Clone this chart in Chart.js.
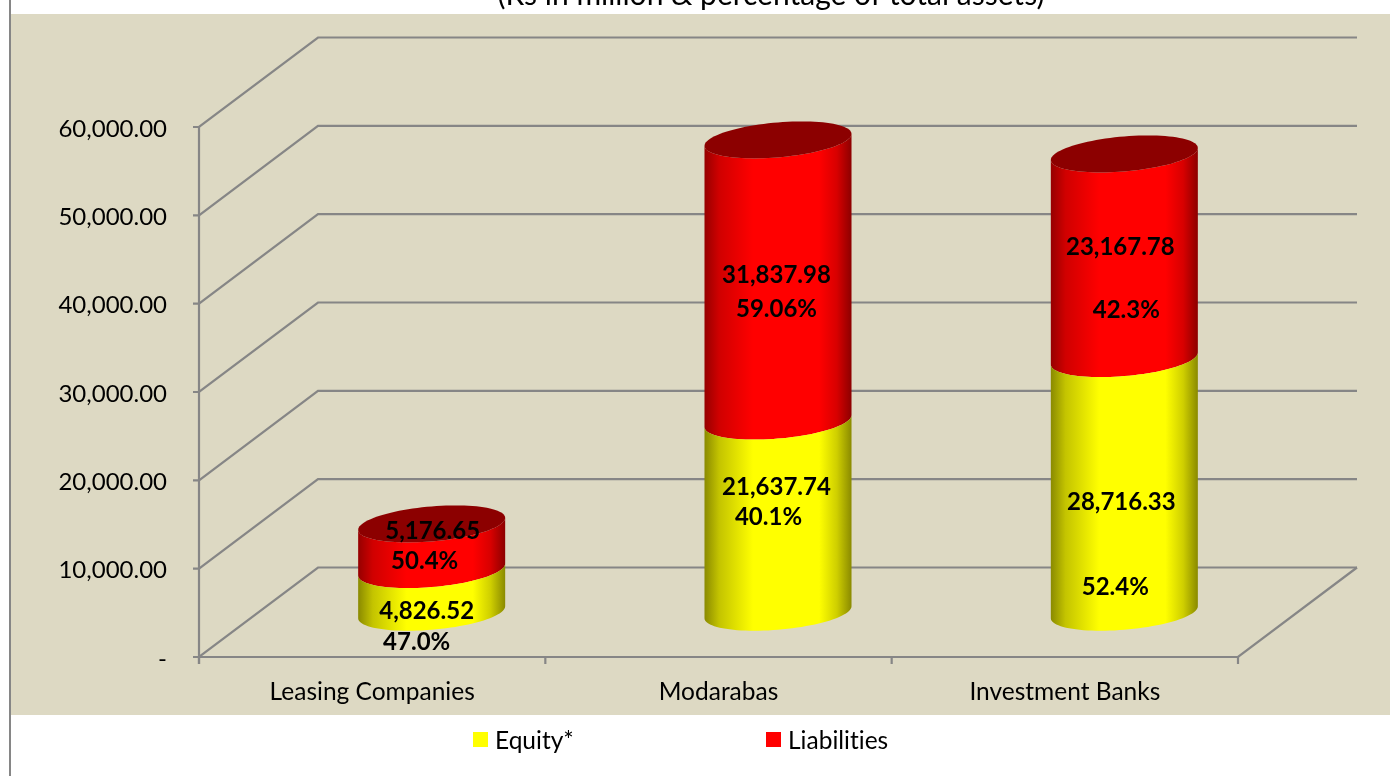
<!DOCTYPE html>
<html><head><meta charset="utf-8">
<style>html,body{margin:0;padding:0;background:#fff}canvas{display:block}</style>
<script src="https://cdn.jsdelivr.net/npm/chart.js@4"></script></head>
<body><div style="width:1390px;height:776px"><canvas id="c" width="1390" height="776"></canvas></div>
<script>
const categories = ['Leasing Companies','Modarabas','Investment Banks'];
const equity = [4826.52,21637.74,28716.33];
const liabilities = [5176.65,31837.98,23167.78];
const equityPct = ['47.0%','40.1%','52.4%'];
const liabilitiesPct = ['50.4%','59.06%','42.3%'];
const titleText = '(Rs in million & percentage of total assets)';
const FONT = 'Lato, Carlito, Calibri, sans-serif';
const DEPTH_X = 119, DEPTH_Y = 89.5, GRID = '#868686';
const TILT = 6, MINOR = 17.5, LIFT = 44.75, LABEL_LIFT = 44;
// label nudges relative to the centre of each cylinder segment
const valueNudge = [[[-5,20],[-1.5,-30],[-3,16]],[[1,-16.5],[-1.5,-6],[-4,-10]]];
const pctNudge = [[[-15,51],[-9.5,0],[-9,101]],[[-7,13.5],[-1.5,28],[2,53]]];
const shades = [
  {edgeL:'#8a8a00',edgeR:'#8a8a00',main:'#ffff00'},
  {edgeL:'#960000',edgeR:'#8c0000',main:'#ff0000'}
];
const fmt = v => v.toLocaleString('en-US',{minimumFractionDigits:2,maximumFractionDigits:2});

function line(ctx,x1,y1,x2,y2){ctx.beginPath();ctx.moveTo(x1,y1);ctx.lineTo(x2,y2);ctx.stroke();}

// lower half of the tilted rim, left to right
function lowerArc(ctx,cx,cy,a,reverse){
  const n=48;
  for(let i=0;i<=n;i++){
    const k=reverse?n-i:i, t=Math.PI-Math.PI*k/n;
    const x=cx+a*Math.cos(t), y=cy-TILT*Math.cos(t)+MINOR*Math.sin(t);
    ctx.lineTo(x,y);
  }
}
function fullRim(ctx,cx,cy,a){
  ctx.beginPath();
  for(let i=0;i<=96;i++){
    const t=2*Math.PI*i/96;
    ctx.lineTo(cx+a*Math.cos(t),cy-TILT*Math.cos(t)+MINOR*Math.sin(t));
  }
  ctx.closePath();
}

const scene = {
  id:'scene',
  beforeDraw(chart){
    const ctx=chart.ctx;
    ctx.save();
    ctx.fillStyle='#fff';ctx.fillRect(0,0,1390,776);
    ctx.fillStyle='#000';ctx.font='30px '+FONT;ctx.textAlign='center';ctx.textBaseline='alphabetic';
    ctx.fillText(titleText,771,5);
    ctx.fillStyle='#DDD9C3';ctx.fillRect(10,14,1380,701);
    ctx.strokeStyle=GRID;ctx.lineWidth=2;line(ctx,10,0,10,776);
    ctx.restore();
  },
  beforeDatasetsDraw(chart){
    const ctx=chart.ctx,x=chart.scales.x,y=chart.scales.y;
    const x0=x.left,x1=x.right,y0=y.getPixelForValue(0),yT=y.getPixelForValue(60000);
    ctx.save();ctx.strokeStyle=GRID;ctx.lineWidth=2.2;
    y.ticks.forEach(t=>{
      const p=y.getPixelForValue(t.value);
      ctx.beginPath();ctx.moveTo(x0-6,p);ctx.lineTo(x0,p);ctx.lineTo(x0+DEPTH_X,p-DEPTH_Y);ctx.lineTo(x1+DEPTH_X,p-DEPTH_Y);ctx.stroke();
    });
    line(ctx,x0,yT,x0,y0+7);
    ctx.beginPath();ctx.moveTo(x0,y0);ctx.lineTo(x1,y0);ctx.lineTo(x1+DEPTH_X,y0-DEPTH_Y);ctx.stroke();
    for(let i=0;i<=categories.length;i++){
      const p=x0+(x1-x0)*i/categories.length;
      line(ctx,p,y0,p,y0+7);
    }
    ctx.restore();
  },
  beforeDatasetDraw(chart,args){
    const ctx=chart.ctx,meta=chart.getDatasetMeta(args.index),s=shades[args.index];
    const last=args.index===chart.data.datasets.length-1;
    meta.data.forEach(bar=>{
      const cx=bar.x+DEPTH_X/2,a=bar.width/2;
      const top=bar.y-LIFT,bot=bar.base-LIFT;
      const g=ctx.createLinearGradient(cx-a,0,cx+a,0);
      g.addColorStop(0,s.edgeL);g.addColorStop(0.1,s.edgeL==='#8a8a00'?'#c4c400':'#d00000');
      g.addColorStop(0.33,s.main);g.addColorStop(0.78,s.main);
      g.addColorStop(0.9,s.edgeR==='#8a8a00'?'#cfcf00':'#d80000');g.addColorStop(1,s.edgeR);
      ctx.save();ctx.fillStyle=g;
      ctx.beginPath();
      lowerArc(ctx,cx,bot,a,false);
      lowerArc(ctx,cx,top,a,true);
      ctx.closePath();ctx.fill();
      if(last){
        ctx.fillStyle='#8C0000';fullRim(ctx,cx,top,a);ctx.fill();
      }
      ctx.restore();
    });
    return false;
  },
  afterDatasetsDraw(chart){
    const ctx=chart.ctx;
    ctx.save();
    ctx.fillStyle='#000';ctx.font='bold 24px '+FONT;ctx.textAlign='center';ctx.textBaseline='middle';
    chart.data.datasets.forEach((ds,d)=>{
      chart.getDatasetMeta(d).data.forEach((bar,i)=>{
        const cx=bar.x+DEPTH_X/2,my=(bar.y+bar.base)/2-LABEL_LIFT;
        ctx.fillText(fmt(ds.data[i]),cx+valueNudge[d][i][0],my+valueNudge[d][i][1]);
        ctx.fillText(ds.pct[i],cx+pctNudge[d][i][0],my+pctNudge[d][i][1]);
      });
    });
    // legend
    ctx.font='24.5px '+FONT;ctx.textAlign='left';ctx.letterSpacing='0.01px';
    const spots=[473,766];
    chart.data.datasets.forEach((ds,d)=>{
      ctx.fillStyle=ds.backgroundColor;ctx.fillRect(spots[d],732,15,15);
      ctx.fillStyle='#000';ctx.fillText(ds.label,spots[d]+22,741);
    });
    ctx.restore();
  }
};

new Chart(document.getElementById('c'),{
  type:'bar',
  data:{labels:categories,datasets:[
    {label:'Equity*',data:equity,pct:equityPct,backgroundColor:'#FFFF00'},
    {label:'Liabilities',data:liabilities,pct:liabilitiesPct,backgroundColor:'#FF0000'}
  ]},
  plugins:[scene],
  options:{
    responsive:false,animation:false,
    layout:{padding:{top:127,right:152,left:0,bottom:0}},
    categoryPercentage:1,barPercentage:0.4245,
    plugins:{legend:{display:false},title:{display:false},tooltip:{enabled:false}},
    scales:{
      x:{stacked:true,grid:{display:false,drawTicks:false},border:{display:false},
        afterFit(s){s.height=119;},
        ticks:{color:'#000',font:{family:FONT,size:24.5},padding:20,maxRotation:0}},
      y:{stacked:true,min:0,max:60000,grid:{display:false,drawTicks:false},border:{display:false},
        afterFit(s){s.width=199;},
        ticks:{stepSize:10000,color:'#000',font:{family:FONT,size:24},padding:32,labelOffset:2,
          callback:v=>v===0?'-':fmt(v)}}
    }
  }
});
</script></body></html>
